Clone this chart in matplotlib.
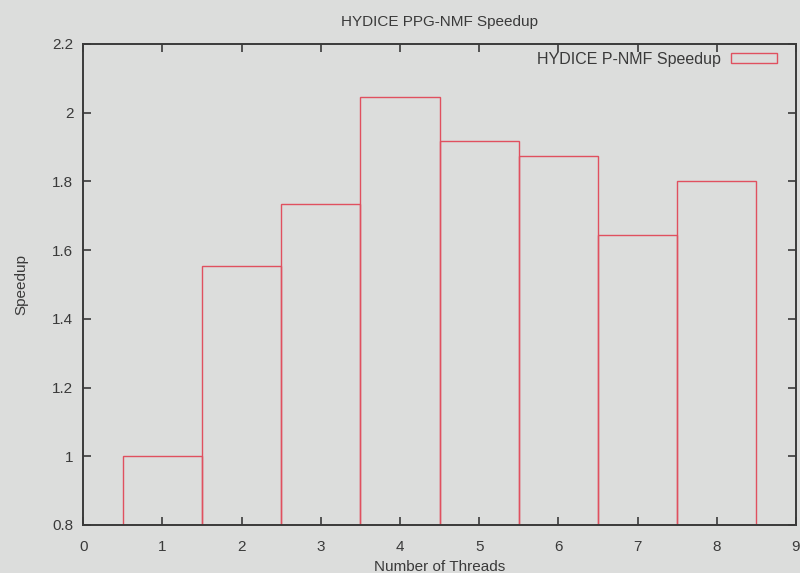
import matplotlib
matplotlib.use("Agg")
import matplotlib.pyplot as plt

threads = [1, 2, 3, 4, 5, 6, 7, 8]
speedup = [1.00, 1.555, 1.735, 2.046, 1.918, 1.874, 1.645, 1.801]
xticks = [0, 1, 2, 3, 4, 5, 6, 7, 8, 9]
yticks = [0.8, 1.0, 1.2, 1.4, 1.6, 1.8, 2.0, 2.2]
ytick_labels = ["0.8", "1", "1.2", "1.4", "1.6", "1.8", "2", "2.2"]

bg = "#dcdddc"
red = "#e0505f"
ink = "#3a3a3a"

plt.rcParams['font.family'] = ['Liberation Sans', 'DejaVu Sans']

fig = plt.figure(figsize=(8, 5.73), dpi=100, facecolor=bg)
ax = fig.add_axes([0.104, 0.0838, 0.891, 0.8395])
ax.set_facecolor(bg)

ax.bar(threads, [s - 0.8 for s in speedup], bottom=0.8, width=1.0,
       fill=False, edgecolor=red, linewidth=1.0,
       label="HYDICE P-NMF Speedup")

ax.set_xlim(0, 9)
ax.set_ylim(0.8, 2.2)
ax.set_xticks(xticks)
ax.set_yticks(yticks)
ax.set_yticklabels(ytick_labels)
ax.tick_params(direction='in', length=6, width=1.2, color=ink, labelcolor=ink,
               labelsize=11, top=True, right=True, pad=7)
ax.tick_params(axis='x', pad=11)
for sp in ax.spines.values():
    sp.set_color(ink)
    sp.set_linewidth(1.4)

ax.set_title("HYDICE PPG-NMF Speedup", fontsize=11, color=ink, pad=13)
ax.set_xlabel("Number of Threads", fontsize=11, color=ink, labelpad=4)
ax.set_ylabel("Speedup", fontsize=11, color=ink, labelpad=17)

leg = ax.legend(loc='upper right', bbox_to_anchor=(0.9734, 0.984),
                frameon=False, fontsize=11.5,
                markerfirst=False, handlelength=2.9, handleheight=0.5,
                handletextpad=0.6, borderpad=0, borderaxespad=0,
                labelcolor=ink)

fig.savefig("out.png", dpi=100, facecolor=bg)
